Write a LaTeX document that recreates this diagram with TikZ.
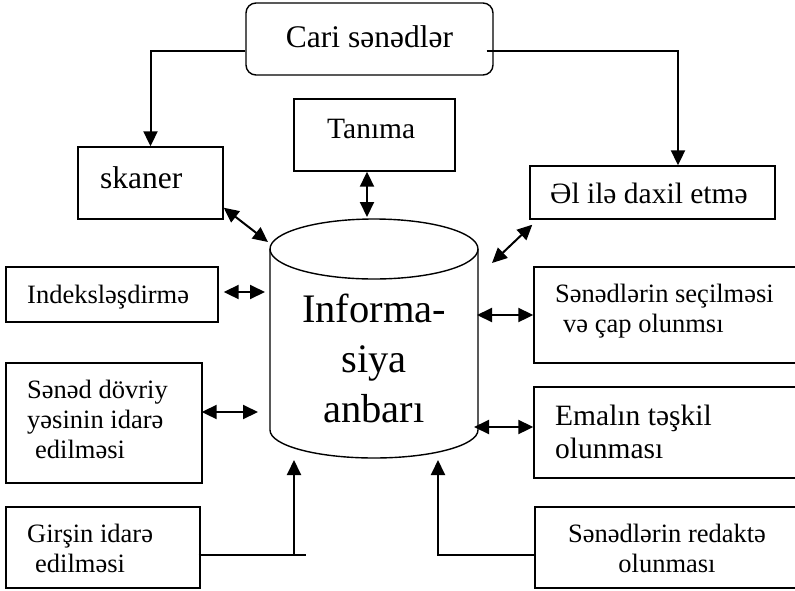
\documentclass[tikz,border=0pt]{standalone}
\usepackage{fontspec}
\setmainfont{Liberation Serif}
\usetikzlibrary{arrows.meta}

\begin{document}
\begin{tikzpicture}[x=1pt, y=-1pt,
  box/.style={draw, line width=1.4pt, rectangle, inner sep=0pt},
  txt/.style={inner sep=0pt, anchor=base west, align=left},
  ctxt/.style={inner sep=0pt, anchor=base, align=center},
  small/.style={font=\fontsize{26.5}{30}\selectfont},
  medium/.style={font=\fontsize{29.5}{33}\selectfont},
  large/.style={font=\fontsize{31.5}{36}\selectfont},
  huge/.style={font=\fontsize{40.5}{50}\selectfont},
  tip/.tip={Triangle[length=15pt, width=14pt]},
  flow/.style={line width=2pt, -tip},
  both/.style={line width=2pt, tip-tip},
  plain/.style={line width=1.6pt}]
\clip (0,0) rectangle (795,590);

% --- boxes ---
\node[box, rounded corners=10pt, minimum width=247pt, minimum height=72pt] (cari) at (369.5,39) {};
\node[box, minimum width=161pt, minimum height=72pt] (tanima) at (374.5,135) {};
\node[box, minimum width=145pt, minimum height=72pt] (skaner) at (150.5,183) {};
\node[box, minimum width=245pt, minimum height=53pt] (el) at (652.5,192.5) {};
\node[box, minimum width=212pt, minimum height=55pt] (indeks) at (112,294.5) {};
\node[box, minimum width=196pt, minimum height=120pt] (dovr) at (104,423) {};
\node[box, minimum width=194pt, minimum height=81pt] (girsin) at (103,547.5) {};
\node[box, minimum width=276pt, minimum height=96pt] (secil) at (672,315) {};
\node[box, minimum width=276pt, minimum height=91pt] (emal) at (672,432.5) {};
\node[box, minimum width=275pt, minimum height=81pt] (redakte) at (672.5,547.5) {};

% --- storage cylinder ---
\draw[line width=1.4pt] (270,249) -- (270,430)
  arc[start angle=180, end angle=0, x radius=104, y radius=28] -- (478,249);
\draw[line width=1.4pt] (374,249) ellipse [x radius=104, y radius=30];

% --- labels (multi-line nodes sit on the baseline of their last line) ---
\node[ctxt, large] (t-cari) at (369.5,47) {Cari sənədlər};
\node[txt, large] (t-skaner) at (100,188) {skaner};
\node[txt, medium] (t-tanima) at (327,138) {Tanıma};
\node[txt, medium] (t-el) at (550,203) {Əl ilə daxil etmə};
\node[txt, small] (t-indeks) at (27,303) {Indeksləşdirmə};
\node[txt, small] (t-dovr) at (27,458) {Sənəd dövriy\\yəsinin idarə\\\hspace*{8pt}edilməsi};
\node[txt, small] (t-girsin) at (27,572) {Girşin idarə\\\hspace*{8pt}edilməsi};
\node[txt, small] (t-secil) at (555,332) {Sənədlərin seçilməsi\\\hspace*{8pt}və çap olunmsı};
\node[txt, medium] (t-emal) at (555,458) {Emalın təşkil\\olunması};
\node[ctxt, small] (t-redakte) at (667,572) {Sənədlərin redaktə\\olunması};
\node[ctxt, huge] (store) at (374,422) {Informa-\\siya\\anbarı};

% --- connection points on the cylinder ---
\coordinate (c-top) at (367,217);
\coordinate (c-nw) at (268,242);
\coordinate (c-ne) at (492,263);
\coordinate (c-w1) at (265,292);
\coordinate (c-w2) at (258,412);
\coordinate (c-e1) at (477,315);
\coordinate (c-e2) at (474,427);
\coordinate (c-sw) at (294,460);
\coordinate (c-se) at (438,460);
\coordinate (g-join) at (294,555);

% --- connectors ---
\draw[flow] ([yshift=-12pt]cari.west) -| (skaner.north);
\draw[flow] ([xshift=-7pt, yshift=-12pt]cari.east) -| ([xshift=25.5pt]el.north);
\draw[both] ([xshift=-7.5pt]tanima.south) -- (c-top);
\draw[both] ([yshift=12pt]skaner.south east) -- (c-nw);
\draw[both] ([shift={(3pt,-5pt)}]el.south west) -- (c-ne);
\draw[both] ([shift={(5pt,2.5pt)}]indeks.east) -- (c-w1);
\draw[both] ([shift={(-1pt,11pt)}]dovr.east) -- (c-w2);
\draw[both] (secil.west) -- (c-e1);
\draw[both] ([yshift=5.5pt]emal.west) -- (c-e2);
\draw[plain] ([shift={(-2pt,-7.5pt)}]girsin.east) -- ++(107,0);
\draw[flow] (g-join) -- (c-sw);
\draw[flow] ([yshift=-7.5pt]redakte.west) -| (c-se);
\end{tikzpicture}
\end{document}
